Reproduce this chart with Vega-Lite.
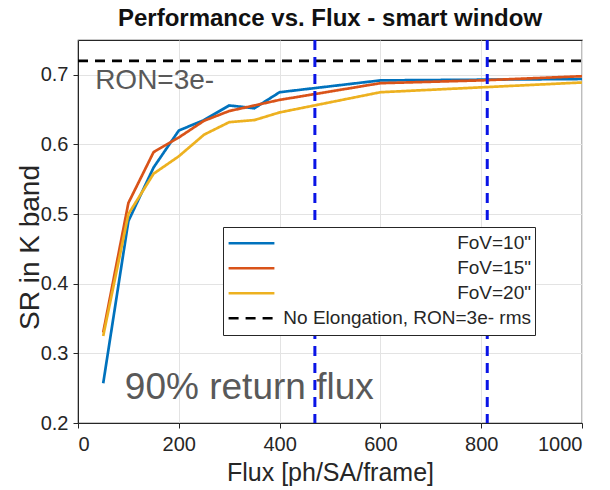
{
  "$schema": "https://vega.github.io/schema/vega-lite/v6.json",
  "width": 504,
  "height": 383,
  "autosize": {"type": "none"},
  "padding": {"left": 78, "top": 40, "right": 28, "bottom": 67},
  "background": "white",
  "title": {"text": "Performance vs. Flux - smart window", "font": "Liberation Sans", "fontSize": 24, "fontWeight": "bold", "color": "#111111", "offset": 8, "anchor": "middle"},
  "config": {
    "view": {"stroke": "#262626", "strokeWidth": 1.2},
    "axis": {
      "labelFont": "Liberation Sans", "labelFontSize": 20, "labelColor": "#262626",
      "titleFont": "Liberation Sans", "titleFontSize": 25, "titleFontWeight": "normal", "titleColor": "#262626",
      "domainColor": "#262626", "tickColor": "#262626", "tickSize": 5,
      "gridColor": "#e3e3e3", "gridWidth": 1
    }
  },
  "datasets": {
    "curves": [
      {"flux": 50, "sr": 0.257, "series": "FoV=10\""},
      {"flux": 100, "sr": 0.490, "series": "FoV=10\""},
      {"flux": 150, "sr": 0.567, "series": "FoV=10\""},
      {"flux": 200, "sr": 0.620, "series": "FoV=10\""},
      {"flux": 250, "sr": 0.635, "series": "FoV=10\""},
      {"flux": 300, "sr": 0.656, "series": "FoV=10\""},
      {"flux": 350, "sr": 0.652, "series": "FoV=10\""},
      {"flux": 400, "sr": 0.675, "series": "FoV=10\""},
      {"flux": 600, "sr": 0.692, "series": "FoV=10\""},
      {"flux": 800, "sr": 0.693, "series": "FoV=10\""},
      {"flux": 1000, "sr": 0.694, "series": "FoV=10\""},
      {"flux": 50, "sr": 0.330, "series": "FoV=15\""},
      {"flux": 100, "sr": 0.516, "series": "FoV=15\""},
      {"flux": 150, "sr": 0.589, "series": "FoV=15\""},
      {"flux": 200, "sr": 0.610, "series": "FoV=15\""},
      {"flux": 250, "sr": 0.634, "series": "FoV=15\""},
      {"flux": 300, "sr": 0.648, "series": "FoV=15\""},
      {"flux": 350, "sr": 0.656, "series": "FoV=15\""},
      {"flux": 400, "sr": 0.664, "series": "FoV=15\""},
      {"flux": 600, "sr": 0.688, "series": "FoV=15\""},
      {"flux": 800, "sr": 0.692, "series": "FoV=15\""},
      {"flux": 1000, "sr": 0.698, "series": "FoV=15\""},
      {"flux": 50, "sr": 0.325, "series": "FoV=20\""},
      {"flux": 100, "sr": 0.500, "series": "FoV=20\""},
      {"flux": 150, "sr": 0.558, "series": "FoV=20\""},
      {"flux": 200, "sr": 0.583, "series": "FoV=20\""},
      {"flux": 250, "sr": 0.614, "series": "FoV=20\""},
      {"flux": 300, "sr": 0.632, "series": "FoV=20\""},
      {"flux": 350, "sr": 0.635, "series": "FoV=20\""},
      {"flux": 400, "sr": 0.646, "series": "FoV=20\""},
      {"flux": 600, "sr": 0.675, "series": "FoV=20\""},
      {"flux": 800, "sr": 0.682, "series": "FoV=20\""},
      {"flux": 1000, "sr": 0.689, "series": "FoV=20\""},
      {"flux": 0, "sr": 0.72, "series": "No Elongation, RON=3e- rms"},
      {"flux": 1000, "sr": 0.72, "series": "No Elongation, RON=3e- rms"}
    ],
    "markers": [
      {"flux": 470},
      {"flux": 812}
    ],
    "notes": [
      {"flux": 34, "sr": 0.691, "label": "RON=3e-", "size": 28},
      {"flux": 93, "sr": 0.25, "label": "90% return flux", "size": 37}
    ]
  },
  "layer": [
    {
      "data": {"name": "curves"},
      "mark": {"type": "line", "strokeWidth": 2.7, "clip": true},
      "encoding": {
        "x": {"field": "flux", "type": "quantitative",
              "scale": {"domain": [0, 1000], "nice": false},
              "axis": {"values": [0, 200, 400, 600, 800, 1000], "format": "d", "title": "Flux [ph/SA/frame]", "labelPadding": 6, "titlePadding": 6, "grid": true}},
        "y": {"field": "sr", "type": "quantitative",
              "scale": {"domain": [0.2, 0.75], "nice": false, "zero": false},
              "axis": {"values": [0.2, 0.3, 0.4, 0.5, 0.6, 0.7], "format": ".1f", "title": "SR in K band", "titleFontSize": 28, "titleY": 207, "labelPadding": 5, "titlePadding": -4, "grid": true}},
        "color": {"field": "series", "type": "nominal",
                  "scale": {"domain": ["FoV=10\"", "FoV=15\"", "FoV=20\"", "No Elongation, RON=3e- rms"],
                            "range": ["#0072BD", "#D95319", "#EDB120", "#000000"]},
                  "legend": {"orient": "none", "legendX": 145, "legendY": 187, "title": null,
                             "fillColor": "white", "strokeColor": "#262626", "padding": 4,
                             "symbolType": "stroke", "symbolSize": 2100, "symbolStrokeWidth": 2.7,
                             "clipHeight": 24.5,
                             "labelAlign": "right", "labelOffset": 255, "labelLimit": 400,
                             "labelFont": "Liberation Sans", "labelFontSize": 19, "labelColor": "#262626",
                             "rowPadding": 0}},
        "strokeDash": {"field": "series", "type": "nominal",
                       "scale": {"domain": ["FoV=10\"", "FoV=15\"", "FoV=20\"", "No Elongation, RON=3e- rms"],
                                 "range": [[1, 0], [1, 0], [1, 0], [10, 7]]}}
      }
    },
    {
      "data": {"name": "notes"},
      "mark": {"type": "text", "align": "left", "baseline": "middle", "font": "Liberation Sans", "color": "#595959"},
      "encoding": {
        "x": {"field": "flux", "type": "quantitative"},
        "y": {"field": "sr", "type": "quantitative"},
        "text": {"field": "label"},
        "size": {"field": "size", "type": "quantitative", "scale": null}
      }
    },
    {
      "data": {"name": "markers"},
      "mark": {"type": "rule", "color": "#0a14e6", "strokeWidth": 3, "strokeDash": [10, 7]},
      "encoding": {"x": {"field": "flux", "type": "quantitative"}}
    }
  ]
}
